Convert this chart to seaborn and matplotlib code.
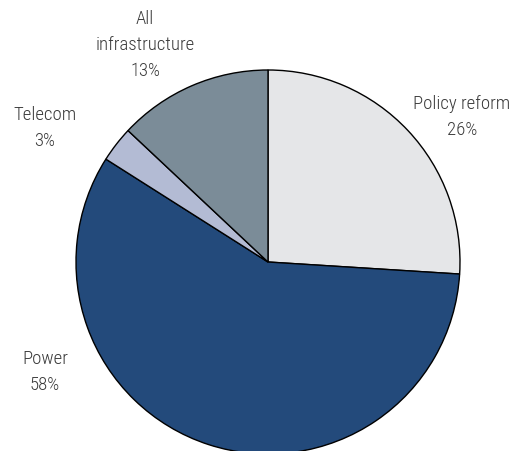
import matplotlib
matplotlib.use("Agg")
import matplotlib.pyplot as plt
import seaborn as sns
from matplotlib import font_manager

categories = ["Policy reform", "Power", "Telecom", "All infrastructure"]
values = [26, 58, 3, 13]
label_texts = ["Policy reform\n26%", "Power\n58%", "Telecom\n3%", "All\ninfrastructure\n13%"]
colors = ["#e5e6e8", "#234a7b", "#b3bbd4", "#7b8c98"]

sns.set_theme(style="white")
avail = {f.name for f in font_manager.fontManager.ttflist}
fams = [f for f in ["Roboto Condensed", "Liberation Sans Narrow", "Roboto"] if f in avail] + ["DejaVu Sans"]
plt.rcParams["font.family"] = fams

W, H = 517, 451
fig = plt.figure(figsize=(W / 100, H / 100), dpi=100)
ax = fig.add_axes([0, 0, 1, 1])
cx, cy, r = 268, H - 262, 192
ax.pie(values, colors=colors, startangle=90, counterclock=False,
       center=(cx, cy), radius=r, frame=True,
       wedgeprops=dict(edgecolor="black", linewidth=1.0))
ax.set_xlim(0, W)
ax.set_ylim(0, H)
ax.set_aspect("equal")
ax.axis("off")

label_pos = [(462, 117), (45, 372), (45, 128), (145, 45)]
for t, (x, y) in zip(label_texts, label_pos):
    ax.text(x, H - y, t, ha="center", va="center", fontsize=13.5,
            fontweight="light", color="#3a3a3a", linespacing=1.55)

fig.savefig("out.png", dpi=100)
